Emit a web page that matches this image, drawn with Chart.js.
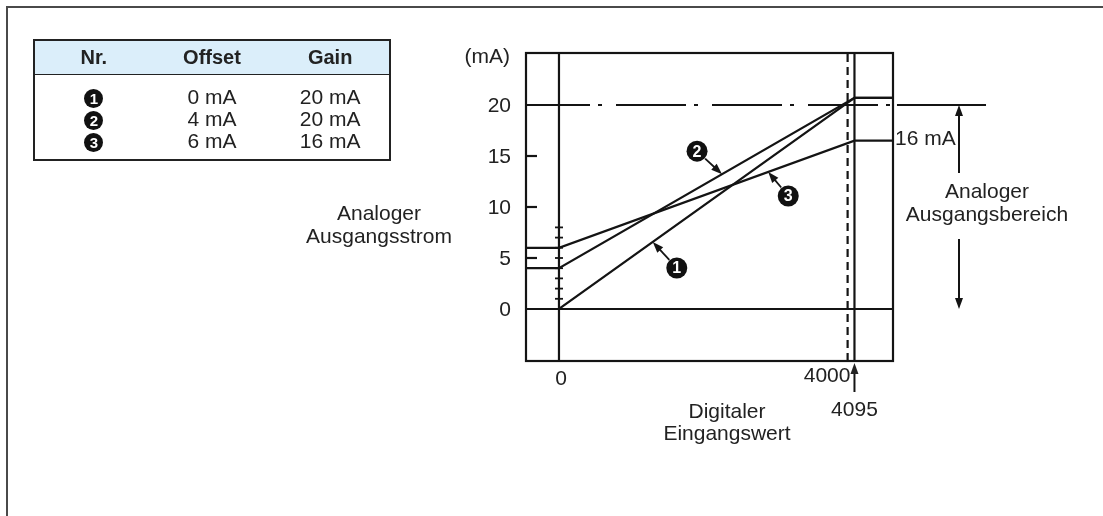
<!DOCTYPE html>
<html lang="de">
<head>
<meta charset="utf-8">
<title>Analoger Ausgangsstrom</title>
<script src="https://cdn.jsdelivr.net/npm/chart.js@4.4.1/dist/chart.umd.min.js"></script>
<style>
  html, body { margin: 0; padding: 0; background: #fff; }
  #wrap { position: relative; width: 1103px; height: 516px; overflow: hidden; }
  #chart { position: absolute; left: 0; top: 0; }
  #tabelle {
    position: absolute; left: 33px; top: 39px; width: 358px;
    border-collapse: collapse; border: 2.5px solid #222;
    font-family: "Liberation Sans", Arial, sans-serif; font-size: 21px; color: #222;
  }
  #tabelle th {
    background: #dbeefa; height: 33px; padding: 0; width: 33.3%;
    font-weight: bold; font-size: 20px; border-bottom: 1.5px solid #222;
  }
  #tabelle td { text-align: center; padding: 0; height: 21.5px; line-height: 21.5px; }
  #tabelle tr.erste td { padding-top: 11px; }
  #tabelle tr.letzte td { padding-bottom: 7px; }
  .nr {
    display: inline-block; width: 19px; height: 19px; border-radius: 50%;
    background: #111; color: #fff; font-weight: bold; font-size: 15px;
    line-height: 20px; vertical-align: middle;
  }
</style>
</head>
<body>
<div id="wrap">
  <canvas id="chart" width="1103" height="516"></canvas>
  <table id="tabelle">
    <thead><tr><th>Nr.</th><th>Offset</th><th>Gain</th></tr></thead>
    <tbody id="tabelle-body"></tbody>
  </table>
</div>
<script>
// Kennlinien: Offset bei 0, Wert am Ende (4095)
const digital = [0, 4095];
const strom1 = [0, 20.7];
const strom2 = [4, 20.7];
const strom3 = [6, 16.5];
const kennlinien = [strom1, strom2, strom3];

// Tabelle
const nummern = [1, 2, 3];
const offsetTexte = ['0 mA', '4 mA', '6 mA'];
const gainTexte = ['20 mA', '20 mA', '16 mA'];

// Achsen
const yTicks = [0, 5, 10, 15, 20];
const rahmenTicks = [5, 10, 15];
const nullTicks = [1, 2, 3, 4, 5, 6, 7, 8];
const digitalMax = 4000;
const X_MIN = -457, X_MAX = 4629;
const Y_MIN = -5.1, Y_MAX = 25.1;
const X_LUECKE = 4684, X_AUSSEN = 5918;   // Verlaengerung der 0/20-Linien

// Zeiger auf die Kennlinien: Nr, x-Wert, Versatz des Kreises
const zeigerNr = [1, 2, 3];
const zeigerX = [1300, 2260, 2900];
const zeigerDx = [24, -25, 20];
const zeigerDy = [26, -23, 24];

const schrift = '"Liberation Sans", Arial, Helvetica, sans-serif';
const ink = '#141414';

// Tabelle fuellen
const tbody = document.getElementById('tabelle-body');
nummern.forEach((n, i) => {
    const tr = document.createElement('tr');
    if (i === 0) tr.className = 'erste';
    if (i === nummern.length - 1) tr.className = 'letzte';
    tr.innerHTML = `<td><span class="nr">${n}</span></td><td>${offsetTexte[i]}</td><td>${gainTexte[i]}</td>`;
    tbody.appendChild(tr);
});

function pfeil(ctx, x1, y1, x2, y2) {
    const a = Math.atan2(y2 - y1, x2 - x1);
    const len = 11, w = 4;
    ctx.beginPath();
    ctx.moveTo(x1, y1);
    ctx.lineTo(x2 - Math.cos(a) * len * 0.7, y2 - Math.sin(a) * len * 0.7);
    ctx.stroke();
    ctx.beginPath();
    ctx.moveTo(x2, y2);
    ctx.lineTo(x2 - Math.cos(a) * len + Math.sin(a) * w, y2 - Math.sin(a) * len - Math.cos(a) * w);
    ctx.lineTo(x2 - Math.cos(a) * len - Math.sin(a) * w, y2 - Math.sin(a) * len + Math.cos(a) * w);
    ctx.closePath();
    ctx.fill();
}

function nummer(ctx, x, y, n) {
    ctx.beginPath();
    ctx.arc(x, y, 10.5, 0, Math.PI * 2);
    ctx.fillStyle = '#111';
    ctx.fill();
    ctx.fillStyle = '#fff';
    ctx.font = 'bold 16px ' + schrift;
    ctx.textAlign = 'center';
    ctx.textBaseline = 'middle';
    ctx.fillText(String(n), x, y + 1);
}

function text(ctx, t, x, y, align) {
    ctx.fillStyle = '#222';
    ctx.font = '21px ' + schrift;
    ctx.textAlign = align || 'center';
    ctx.textBaseline = 'middle';
    ctx.fillText(t, x, y);
}

const beschriftung = {
    id: 'beschriftung',
    afterDraw(chart) {
        const { ctx, chartArea: a, scales: { x, y } } = chart;
        ctx.save();

        // Seitenrahmen oben und links
        ctx.strokeStyle = '#4a4a4a';
        ctx.lineWidth = 2;
        ctx.beginPath();
        ctx.moveTo(7, 516); ctx.lineTo(7, 7); ctx.lineTo(1103, 7);
        ctx.stroke();

        // Diagrammrahmen
        ctx.strokeStyle = ink;
        ctx.fillStyle = ink;
        ctx.lineWidth = 2.2;
        ctx.strokeRect(a.left, a.top, a.right - a.left, a.bottom - a.top);

        rahmenTicks.forEach(v => {
            const py = y.getPixelForValue(v);
            ctx.beginPath(); ctx.moveTo(a.left, py); ctx.lineTo(a.left + 11, py); ctx.stroke();
        });
        const x0 = x.getPixelForValue(0);
        ctx.lineWidth = 1.8;
        nullTicks.forEach(v => {
            const py = y.getPixelForValue(v);
            ctx.beginPath(); ctx.moveTo(x0 - 4, py); ctx.lineTo(x0 + 4, py); ctx.stroke();
        });

        // y-Beschriftung
        yTicks.forEach(v => text(ctx, String(v), a.left - 15, y.getPixelForValue(v) + 1, 'right'));
        text(ctx, '(mA)', a.left - 16, a.top + 4, 'right');
        text(ctx, 'Analoger', a.left - 147, a.top + 161);
        text(ctx, 'Ausgangsstrom', a.left - 147, a.top + 184);

        // x-Beschriftung
        const xEnd = x.getPixelForValue(digital[1]);
        text(ctx, '0', x0 + 2, a.bottom + 18);
        text(ctx, String(digitalMax), xEnd - 4, a.bottom + 15, 'right');
        ctx.lineWidth = 2;
        pfeil(ctx, xEnd, a.bottom + 31, xEnd, a.bottom + 2);
        text(ctx, String(digital[1]), xEnd, a.bottom + 49);
        text(ctx, 'Digitaler', a.left + 201, a.bottom + 51);
        text(ctx, 'Eingangswert', a.left + 201, a.bottom + 73);

        // Ausgangsbereich rechts
        const y20 = y.getPixelForValue(20), y0 = y.getPixelForValue(0);
        const ax = a.right + 66;
        ctx.strokeStyle = ink; ctx.fillStyle = ink; ctx.lineWidth = 2;
        pfeil(ctx, ax, y20 + 68, ax, y20);
        pfeil(ctx, ax, y0 - 70, ax, y0);
        text(ctx, 'Analoger', ax + 28, y20 + 87);
        text(ctx, 'Ausgangsbereich', ax + 28, y20 + 110);
        text(ctx, '16 mA', a.right + 2, y.getPixelForValue(strom3[1]) - 2, 'left');

        // Nummern mit Zeigern
        zeigerNr.forEach((n, i) => {
            const s = kennlinien[n - 1];
            const xv = zeigerX[i];
            const yv = s[0] + (s[1] - s[0]) * (xv - digital[0]) / (digital[1] - digital[0]);
            const tx = x.getPixelForValue(xv), ty = y.getPixelForValue(yv);
            const cx = tx + zeigerDx[i], cy = ty + zeigerDy[i];
            const d = Math.hypot(tx - cx, ty - cy);
            const sx = cx + (tx - cx) / d * 11, sy = cy + (ty - cy) / d * 11;
            ctx.strokeStyle = ink; ctx.fillStyle = ink; ctx.lineWidth = 1.8;
            pfeil(ctx, sx, sy, tx, ty);
            nummer(ctx, cx, cy, n);
        });

        ctx.restore();
    }
};

function linie(data, extra) {
    return Object.assign({
        data: data,
        borderColor: ink,
        borderWidth: 2.2,
        pointRadius: 0,
        tension: 0,
        fill: false,
        spanGaps: false
    }, extra || {});
}

const datasets = [
    // y = 20, strichpunktiert im Rahmen
    linie([{ x: X_MIN, y: 20 }, { x: X_MAX, y: 20 }], { borderDash: [70, 8, 4, 14], borderDashOffset: 6 }),
    // Verlaengerung 0 und 20 rechts
    linie([{ x: X_LUECKE, y: 20 }, { x: X_AUSSEN, y: 20 }], { clip: false }),
    linie([{ x: X_MIN, y: 0 }, { x: X_MAX, y: 0 }, { x: (X_MAX + X_LUECKE) / 2, y: null }, { x: X_LUECKE, y: 0 }, { x: X_AUSSEN, y: 0 }], { clip: false }),
    // senkrechte Linien bei 0, 4000 und 4095
    linie([{ x: 0, y: Y_MIN }, { x: 0, y: Y_MAX }]),
    linie([{ x: digitalMax, y: Y_MIN }, { x: digitalMax, y: Y_MAX }], { borderDash: [8, 5] }),
    linie([{ x: digital[1], y: Y_MIN }, { x: digital[1], y: Y_MAX }])
];

kennlinien.forEach(s => {
    datasets.push(linie([
        { x: X_MIN, y: s[0] },
        { x: digital[0], y: s[0] },
        { x: digital[1], y: s[1] },
        { x: X_MAX, y: s[1] }
    ]));
});

new Chart(document.getElementById('chart').getContext('2d'), {
    type: 'line',
    data: { datasets: datasets },
    options: {
        responsive: false,
        animation: false,
        events: [],
        layout: { padding: { left: 526, right: 210, top: 53, bottom: 155 } },
        plugins: { legend: { display: false }, tooltip: { enabled: false } },
        scales: {
            x: { type: 'linear', min: X_MIN, max: X_MAX, display: false },
            y: { type: 'linear', min: Y_MIN, max: Y_MAX, display: false }
        }
    },
    plugins: [beschriftung]
});
</script>
</body>
</html>
